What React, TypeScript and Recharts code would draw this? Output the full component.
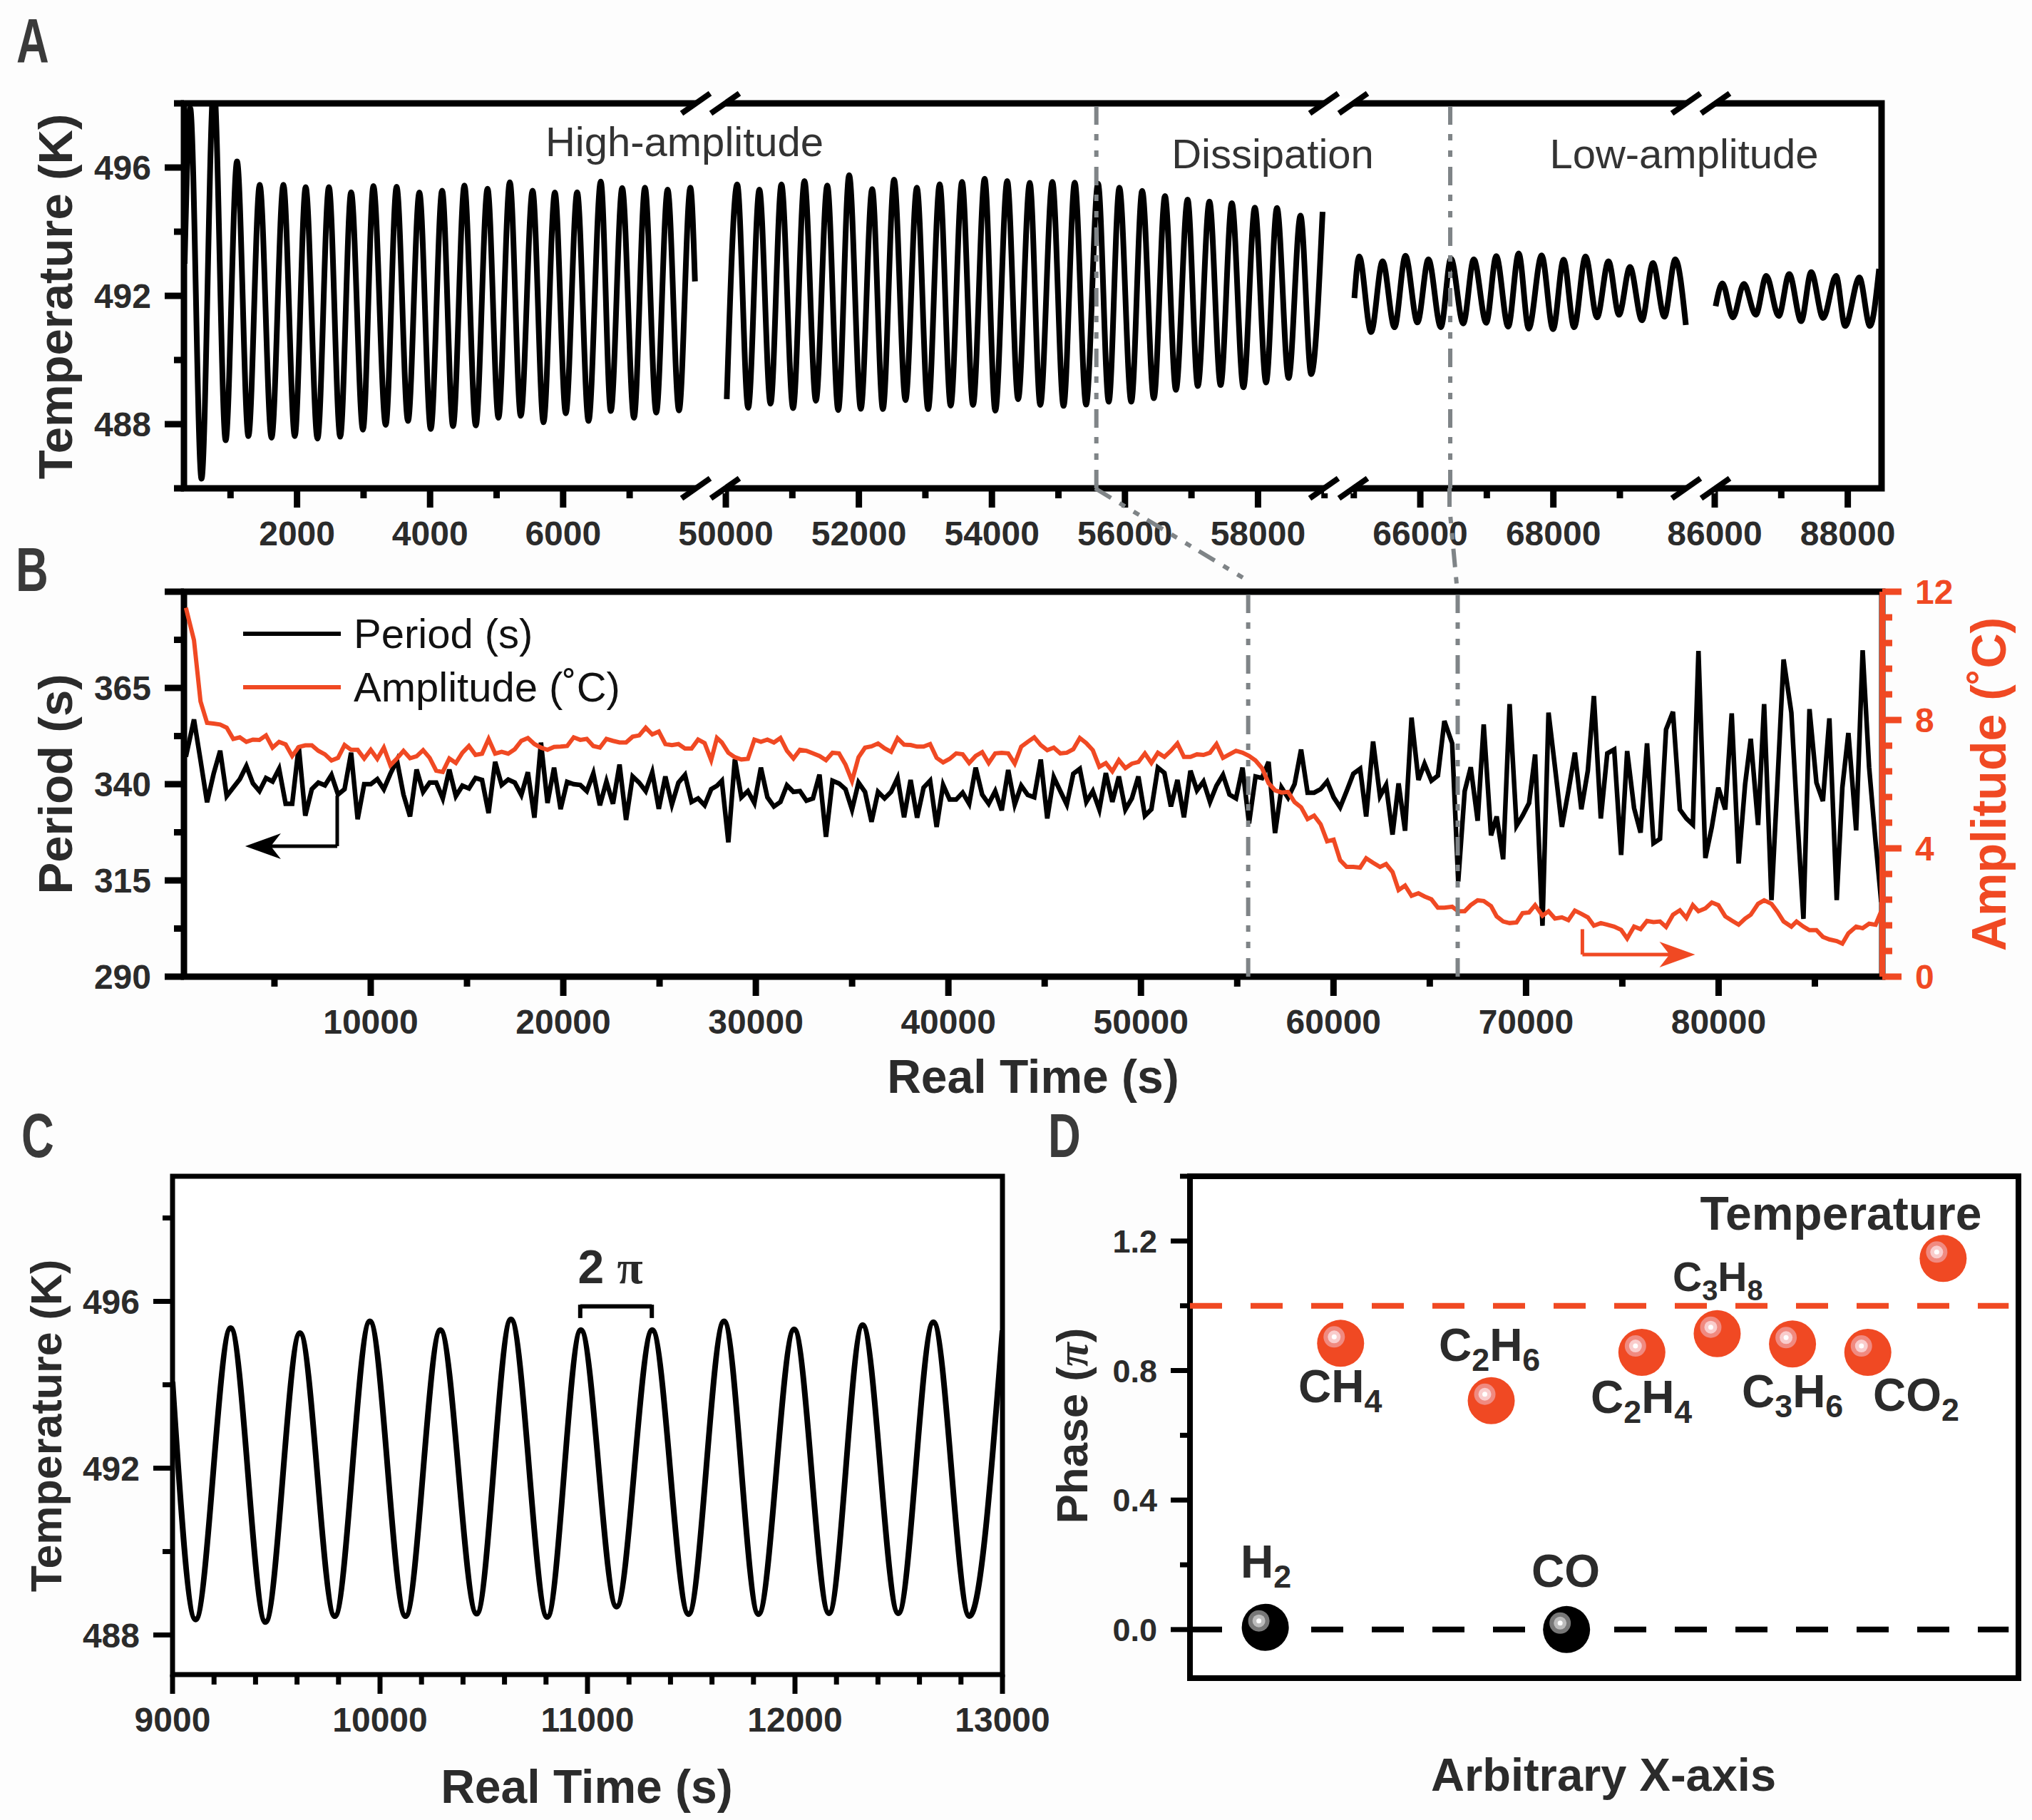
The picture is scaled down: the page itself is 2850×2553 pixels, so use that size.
import React from 'react'
import {
  Legend,
  Line,
  LineChart,
  ReferenceArea,
  ReferenceDot,
  ReferenceLine,
  Scatter,
  ScatterChart,
  XAxis,
  YAxis,
} from 'recharts'

const RED = '#f04923'
const GREY = '#7f8487'
const INK = '#2b2b2b'
const DASH_DOT = '26 14 9 14 9 13'

// panel A: turning points of the temperature trace, one list per broken-axis segment
const tempTimes1 = [310, 394, 564, 749, 927, 1098, 1269, 1439, 1617, 1795, 1966, 2130, 2308, 2479, 2649, 2813, 2991, 3148, 3333, 3497, 3668, 3839, 4010, 4181, 4345, 4516, 4687, 4864, 5028, 5199, 5363, 5541, 5705, 5876, 6040, 6211, 6382, 6566, 6717, 6888, 7065, 7230, 7400, 7571, 7742, 7913, 7982]
const tempValues1 = [493, 497.85, 486.3, 498.6, 487.5, 496.19, 487.63, 495.46, 487.58, 495.46, 487.63, 495.39, 487.55, 495.39, 487.61, 495.23, 487.83, 495.42, 487.98, 495.4, 488.1, 495.22, 487.85, 495.28, 487.94, 495.44, 487.96, 495.34, 488.2, 495.54, 488.26, 495.28, 488.06, 495.22, 488.34, 495.23, 488.1, 495.56, 488.41, 495.36, 488.2, 495.37, 488.36, 495.31, 488.43, 495.37, 492.45]
const tempTimes2 = [50014, 50171, 50336, 50504, 50672, 50836, 51011, 51182, 51354, 51525, 51690, 51854, 52029, 52200, 52361, 52529, 52701, 52872, 53041, 53215, 53380, 53551, 53716, 53891, 54051, 54230, 54394, 54569, 54727, 54909, 55077, 55245, 55416, 55595, 55756, 55916, 56095, 56259, 56434, 56602, 56766, 56942, 57095, 57270, 57438, 57607, 57781, 57953, 58121, 58285, 58460, 58639, 58800, 58971]
const tempValues2 = [488.78, 495.47, 488.51, 495.31, 488.64, 495.47, 488.5, 495.58, 488.73, 495.44, 488.44, 495.76, 488.48, 495.33, 488.47, 495.62, 488.75, 495.37, 488.47, 495.48, 488.58, 495.55, 488.6, 495.65, 488.42, 495.58, 488.78, 495.52, 488.6, 495.55, 488.57, 495.53, 488.61, 495.5, 488.7, 495.37, 488.7, 495.27, 488.81, 495.11, 489.07, 495, 489.19, 494.94, 489.22, 494.89, 489.15, 494.75, 489.3, 494.74, 489.44, 494.5, 489.56, 494.62]
const tempTimes3 = [65009, 65081, 65260, 65433, 65612, 65777, 65957, 66122, 66309, 66460, 66646, 66804, 66991, 67142, 67321, 67479, 67630, 67824, 67996, 68154, 68312, 68484, 68657, 68829, 68987, 69152, 69332, 69497, 69669, 69834, 69992]
const tempValues3 = [491.93, 493.23, 490.87, 493.08, 491.02, 493.25, 491.17, 493.14, 491.02, 493.16, 491.14, 493.14, 491.16, 493.24, 491.04, 493.32, 490.98, 493.26, 490.96, 493.13, 491.02, 493.23, 491.33, 493.08, 491.41, 492.9, 491.24, 493.02, 491.35, 493.14, 491.09]
const tempTimes4 = [86014, 86115, 86273, 86438, 86617, 86775, 86962, 87120, 87300, 87450, 87630, 87824, 87960, 88175, 88334, 88471]
const tempValues4 = [491.68, 492.39, 491.33, 492.37, 491.41, 492.62, 491.37, 492.68, 491.21, 492.74, 491.31, 492.62, 491.06, 492.57, 491.06, 492.84]

const aMajorTimes = [2000, 4000, 6000, 50000, 52000, 54000, 56000, 58000, 66000, 68000, 86000, 88000]
const aMinorTimes = [1000, 3000, 5000, 7000, 51000, 53000, 55000, 57000, 59000, 65000, 67000, 69000, 87000]
// first time of each axis segment and how much is cut out before it
const segmentStarts = [0, 50000, 65000, 86000]
const segmentShifts = [0, 41554, 47114, 62688]

const aTempMajor = [488, 492, 496]
const aTempMinor = [486, 490, 494, 498]

// panel B: one reading per oscillation
const sampleTimes = [
  400, 821, 1161, 1501, 1841, 2181, 2521, 2861, 3201, 3541,
  3881, 4221, 4561, 4901, 5241, 5581, 5921, 6261, 6601, 6941,
  7281, 7621, 7961, 8301, 8641, 8981, 9321, 9661, 10001, 10341,
  10681, 11021, 11361, 11701, 12041, 12381, 12721, 13061, 13401, 13741,
  14081, 14421, 14761, 15101, 15441, 15781, 16121, 16461, 16801, 17141,
  17481, 17821, 18161, 18501, 18841, 19181, 19521, 19861, 20201, 20541,
  20881, 21221, 21561, 21901, 22241, 22581, 22921, 23261, 23601, 23941,
  24281, 24621, 24961, 25301, 25641, 25981, 26321, 26661, 27001, 27341,
  27681, 27980,
  28235, 28573, 28911, 29249, 29587, 29925, 30263, 30601, 30939, 31277,
  31615, 31953, 32291, 32629, 32967, 33305, 33643, 33981, 34319, 34657,
  34995, 35333, 35671, 36009, 36347, 36685, 37023, 37361, 37699, 38037,
  38375, 38713, 39051, 39389, 39727, 40065, 40403, 40741, 41079, 41417,
  41755, 42093, 42431, 42769, 43107, 43445, 43783, 44121, 44459, 44797,
  45135, 45473, 45811, 46149, 46487, 46825, 47163, 47501, 47839, 48177,
  48515, 48853, 49191, 49529, 49867, 50205, 50543, 50881, 51219, 51557,
  51895, 52233, 52571, 52909, 53247, 53585, 53923, 54261, 54599, 54937,
  55275, 55613, 55951, 56289, 56627, 56965, 57303, 57641, 57979, 58317,
  58655, 58993, 59331, 59669, 60007, 60345, 60683, 61030,
  61383, 61697, 62056, 62415, 62730, 63066, 63380, 63717, 64053, 64412,
  64727, 65086, 65422, 65759, 66163, 66477, 66814, 67128, 67487, 67801,
  68182, 68474, 68811, 69147, 69506, 69820, 70157, 70471, 70853, 71167,
  71503, 71863, 72199, 72536, 72872, 73209, 73523, 73882, 74219, 74578,
  74937, 75251, 75610, 75947, 76283, 76620, 76956, 77271, 77630, 77989,
  78325, 78662, 78954, 79313, 79649, 79986, 80345, 80681, 81040, 81377,
  81669, 82050, 82364, 82746, 83060, 83374, 83778, 84047, 84406, 84720,
  85080, 85416, 85753, 86134, 86426, 86740, 87144, 87481, 87817, 88154,
  88446,
]
const periodValues = [
  347.1, 356.8, 346.2, 335.3, 342.7, 348.7, 336.9, 339.1, 341.3, 344.7,
  340.2, 338.2, 341.6, 340.7, 344, 334.9, 334.9, 349.8, 331.8, 338.7,
  340.4, 339.7, 342.4, 337.3, 338.7, 348.2, 330.9, 340, 340, 341.3,
  338.7, 342.7, 346.2, 337.3, 331.6, 343.8, 338, 340.4, 340.4, 336.3,
  343.8, 336.9, 339.6, 338.9, 341.6, 341.1, 332.5, 345.8, 339.8, 341.2,
  340.4, 337.2, 343.1, 331.3, 350.8, 335.1, 344.3, 333.5, 340.6, 340,
  339.8, 338.2, 342.8, 334.5, 340.7, 334.9, 345.1, 330.7, 342, 340.4,
  338.2, 343.1, 333.6, 342, 334.7, 340.4, 342.4, 335.4, 336.3, 334.5,
  338.7, 339.6,
  340.9, 324.9, 346.5, 336.6, 338.2, 335.1, 344.3, 336.6, 334.2, 335.4,
  339.7, 338, 338.2, 335.7, 336.3, 342.5, 326.3, 340.9, 340.2, 338.7,
  333.4, 340.4, 338, 330.2, 338, 336.3, 338, 341.6, 331.4, 341.1,
  331.3, 339.1, 340.9, 328.9, 339.8, 336, 336, 337.8, 334.9, 344.3,
  337.3, 334.9, 338.2, 333.2, 343.7, 334.7, 339.6, 337.2, 336.6, 346.4,
  331.1, 341.8, 338.2, 334.7, 342.7, 344, 335.4, 338.2, 333.4, 342.9,
  335.4, 342, 333.4, 336.3, 342, 331.8, 333.5, 344.3, 342.9, 334.2,
  341.1, 331.4, 343.5, 338.4, 340.7, 335.4, 339.6, 342.4, 337.3, 336.3,
  344.3, 329.8, 342, 341.6, 345.8, 327.3, 339.1, 336.5, 340, 349,
  337.8, 337.8, 338.7, 340.7, 336.6, 334, 338.2, 342.7,
  344, 331.6, 351.1, 336.9, 339.8, 326.9, 340.2, 327.9, 357.3, 341.1,
  345.3, 340.9, 342.2, 356.4, 350.6, 314.7, 338.2, 344.4, 330.5, 355.5,
  326.7, 331.6, 320.5, 360.8, 329.2, 331.8, 335.1, 347.7, 303.2, 358.6,
  344.4, 328.9, 338.2, 348.2, 333.5, 343.5, 362.9, 331.1, 348, 349,
  321.6, 348.6, 333.8, 327.4, 350.6, 324.7, 325.8, 354.2, 358.8, 333.4,
  331.1, 329.5, 374.6, 320.8, 328.9, 339.1, 333.4, 358.4, 319.4, 340,
  351.8, 329.4, 360.8, 309.9, 340.9, 372.4, 358.6, 334.7, 305, 359.5,
  340.4, 335.6, 357.1, 309.9, 339.1, 353.3, 328, 374.8, 344.4, 324.9,
  309.4,
]
const amplitudeValues = [
  11.5, 10.49, 8.58, 7.91, 7.89, 7.86, 7.76, 7.41, 7.46, 7.32,
  7.39, 7.38, 7.52, 7.14, 7.32, 7.24, 6.88, 7.16, 7.21, 7.21,
  7.04, 6.93, 6.74, 6.82, 7.22, 7.07, 7.07, 6.8, 7.07, 6.79,
  7.14, 6.59, 6.8, 7.04, 6.81, 6.87, 7.06, 6.82, 6.42, 6.38,
  6.8, 6.66, 6.98, 7.19, 6.91, 6.95, 7.41, 6.95, 7.01, 6.95,
  7.09, 7.35, 7.44, 7.25, 7.14, 7.07, 7.16, 7.17, 7.19, 7.46,
  7.38, 7.41, 7.19, 7.14, 7.41, 7.35, 7.3, 7.3, 7.48, 7.52,
  7.76, 7.55, 7.64, 7.25, 7.22, 7.25, 7.11, 7.11, 7.39, 7.28,
  6.75, 7.44,
  7.3, 6.98, 6.84, 6.77, 6.79, 7.39, 7.32, 7.39, 7.3, 7.44,
  7.04, 6.8, 7.07, 7.04, 6.96, 6.88, 6.75, 6.98, 6.96, 6.61,
  6.1, 6.84, 7.14, 7.18, 7.27, 7.12, 7.01, 7.43, 7.23, 7.22,
  7.17, 7.17, 7.25, 6.82, 6.68, 6.79, 6.96, 6.93, 6.66, 6.88,
  7, 6.66, 6.96, 6.98, 6.96, 6.64, 7.17, 7.32, 7.46, 7.22,
  7.06, 7.14, 6.96, 6.98, 7.09, 7.44, 7.28, 7.06, 6.54, 6.66,
  6.4, 6.75, 6.5, 6.64, 6.69, 6.96, 6.66, 6.98, 6.85, 7.04,
  7.27, 6.85, 6.85, 6.93, 6.91, 6.98, 7.25, 6.82, 6.93, 7.04,
  6.98, 6.88, 6.74, 6.5, 6.03, 5.81, 5.74, 5.76, 5.44, 5.28,
  4.91, 5.02, 4.75, 4.22, 4.27, 3.63, 3.42, 3.42,
  3.4, 3.69, 3.55, 3.42, 3.51, 3.26, 2.7, 2.84, 2.52, 2.6,
  2.5, 2.41, 2.15, 2.15, 2.18, 2.04, 2.04, 2.23, 2.38, 2.36,
  2.2, 1.88, 1.72, 1.67, 1.69, 1.98, 2, 2.23, 1.9, 2.04,
  1.81, 1.85, 1.76, 2.06, 1.96, 1.85, 1.59, 1.67, 1.62, 1.56,
  1.46, 1.19, 1.56, 1.48, 1.74, 1.7, 1.72, 1.55, 1.93, 2.07,
  1.83, 2.23, 2.04, 2.13, 2.31, 2.23, 1.88, 1.75, 1.62, 1.81,
  1.93, 2.27, 2.38, 2.27, 2.02, 1.72, 1.56, 1.72, 1.56, 1.45,
  1.45, 1.24, 1.16, 1.11, 1.03, 1.35, 1.56, 1.51, 1.65, 1.62,
  2.04,
]
const bTimeMajor = [10000, 20000, 30000, 40000, 50000, 60000, 70000, 80000]
const bTimeMinor = [5000, 15000, 25000, 35000, 45000, 55000, 65000, 75000, 85000]
const periodMajor = [290, 315, 340, 365, 390]
const periodMinor = [302.5, 327.5, 352.5, 377.5]
const ampMajor = [0, 4, 8, 12]
const ampMinor = [0.8, 1.6, 2.4, 3.2, 4.8, 5.6, 6.4, 7.2, 8.8, 9.6, 10.4, 11.2]

// boundaries between the three regimes
const dissipationStart = 55570
const lowAmplitudeStart = 66450

// panel C: turning points
const zoomTimes = [9000, 9111, 9280, 9448, 9614, 9782, 9951, 10123, 10291, 10466, 10631, 10806, 10968, 11140, 11312, 11487, 11658, 11824, 11996, 12164, 12326, 12498, 12667, 12841, 13000]
const zoomValues = [494.07, 488.37, 495.36, 488.31, 495.24, 488.45, 495.52, 488.45, 495.31, 488.51, 495.57, 488.43, 495.31, 488.68, 495.31, 488.5, 495.52, 488.5, 495.33, 488.52, 495.43, 488.52, 495.5, 488.45, 495.3]
const cTimeMajor = [9000, 10000, 11000, 12000, 13000]
const cTimeMinor = [9200, 9400, 9600, 9800, 10200, 10400, 10600, 10800, 11200, 11400, 11600, 11800, 12200, 12400, 12600, 12800]
const cTempMajor = [488, 492, 496]
const cTempMinor = [490, 494, 498]

// panel D
const gasesInPhase = ['H2', 'CO']
const gasesInPhaseX = [1, 5]
const gasesInPhaseY = [0.007, 0]
const gasesAntiPhase = ['CH4', 'C2H6', 'C2H4', 'C3H8', 'C3H6', 'CO2', 'Temperature']
const gasesAntiPhaseX = [2, 4, 6, 7, 8, 9, 10]
const gasesAntiPhaseY = [0.884, 0.707, 0.856, 0.914, 0.882, 0.856, 1.146]
const phaseMajor = [0, 0.4, 0.8, 1.2]
const phaseMinor = [0.2, 0.6, 1, 1.4]

const toAxis = (t: number) => {
  let seg = 0
  segmentStarts.forEach((s, i) => {
    if (t >= s) seg = i
  })
  return t - segmentShifts[seg]
}
const fromAxis = (c: number) => {
  let t = c
  segmentShifts.forEach((shift, i) => {
    if (c + shift >= segmentStarts[i]) t = c + shift
  })
  return t
}

const pairs = (times: number[], values: number[]) =>
  times.map((t, i) => ({ t: toAxis(t), v: values[i] }))
const tempSegments = [
  pairs(tempTimes1, tempValues1),
  pairs(tempTimes2, tempValues2),
  pairs(tempTimes3, tempValues3),
  pairs(tempTimes4, tempValues4),
]
const seriesB = sampleTimes.map((t, i) => ({ t, period: periodValues[i], amp: amplitudeValues[i] }))
const seriesC = zoomTimes.map((t, i) => ({ t, v: zoomValues[i] }))
const pointsBlack = gasesInPhase.map((name, i) => ({ name, x: gasesInPhaseX[i], y: gasesInPhaseY[i] }))
const pointsRed = gasesAntiPhase.map((name, i) => ({ name, x: gasesAntiPhaseX[i], y: gasesAntiPhaseY[i] }))

type TickCfg = {
  side: 'bottom' | 'left' | 'right'
  majors: number[]
  hidden?: number[]
  color?: string
  thick?: number
  labelColor?: string
  fontSize?: number
  format?: (v: number) => string
}

function AxisTick({ x, y, payload, cfg }: any) {
  const { side, majors, hidden = [], color = '#000', thick = 9, labelColor = INK, fontSize = 48, format } = cfg as TickCfg
  const isMajor = majors.includes(payload.value)
  const len = isMajor ? 27 : 14
  const text = format ? format(payload.value) : String(payload.value)
  const label = isMajor && !hidden.includes(payload.value)
  if (side === 'bottom') {
    return (
      <g>
        <line x1={x} x2={x} y1={y} y2={y + len} stroke={color} strokeWidth={thick} />
        {label && (
          <text x={x} y={y + 80} textAnchor="middle" fontSize={fontSize} fontWeight={700} fill={labelColor}>
            {text}
          </text>
        )}
      </g>
    )
  }
  const dir = side === 'left' ? -1 : 1
  return (
    <g>
      <line x1={x} x2={x + dir * len} y1={y} y2={y} stroke={color} strokeWidth={thick} />
      {label && (
        <text
          x={x + dir * 46}
          y={y + fontSize * 0.36}
          textAnchor={side === 'left' ? 'end' : 'start'}
          fontSize={fontSize}
          fontWeight={700}
          fill={labelColor}
        >
          {text}
        </text>
      )}
    </g>
  )
}

function Ball({ cx, cy, base, ring, inner }: any) {
  return (
    <g>
      <circle cx={cx} cy={cy} r={33} fill={base} />
      <circle cx={cx - 9} cy={cy - 9} r={15} fill={ring} />
      <circle cx={cx - 9} cy={cy - 9} r={9} fill={inner} />
      <circle cx={cx - 9} cy={cy - 9} r={3.5} fill="#fff" />
    </g>
  )
}

const ArrowLeft = ({ cx, cy }: any) => (
  <path d={`M${cx} ${cy}L${cx + 50} ${cy - 18}L${cx + 36} ${cy}L${cx + 50} ${cy + 18}Z`} fill="#000" />
)
const ArrowRight = ({ cx, cy }: any) => (
  <path d={`M${cx} ${cy}L${cx - 50} ${cy - 18}L${cx - 36} ${cy}L${cx - 50} ${cy + 18}Z`} fill={RED} />
)

function LegendRows({ payload }: any) {
  return (
    <div>
      {(payload || []).map((item: any) => (
        <div key={item.value} style={{ display: 'flex', alignItems: 'center', height: 75 }}>
          <div style={{ width: 137, height: 6, background: item.color, marginRight: 18 }} />
          <span style={{ fontSize: 58, color: '#111', whiteSpace: 'nowrap' }}>{item.value}</span>
        </div>
      ))}
    </div>
  )
}

function BreakMark({ a, b, y }: { a: number; b: number; y: number }) {
  return (
    <g>
      <rect x={a} y={y - 7} width={b - a} height={14} fill="#fff" />
      <line x1={a - 20} y1={y + 14} x2={a + 20} y2={y - 14} stroke="#000" strokeWidth={8} />
      <line x1={b - 20} y1={y + 14} x2={b + 20} y2={y - 14} stroke="#000" strokeWidth={8} />
    </g>
  )
}

const breakCentres = [
  [976, 1017],
  [1857, 1898],
  [2365, 2406],
]

function Formula({ x, y, base, sub1, rest, sub2, size = 64 }: any) {
  const small = size * 0.7
  return (
    <text x={x} y={y} fontSize={size} fontWeight={700} fill={INK}>
      {base}
      {sub1 && (
        <tspan fontSize={small} dy={size * 0.22}>
          {sub1}
        </tspan>
      )}
      {rest && (
        <tspan fontSize={size} dy={sub1 ? -size * 0.22 : 0}>
          {rest}
        </tspan>
      )}
      {sub2 && (
        <tspan fontSize={small} dy={size * 0.22}>
          {sub2}
        </tspan>
      )}
    </text>
  )
}

function Annotations() {
  const title = { fontWeight: 700, fill: INK, textAnchor: 'middle' } as const
  const letter = { fontWeight: 700, fontSize: 88, fill: '#3a3a3a' } as const
  const note = { fontSize: 58, fill: '#333', textAnchor: 'middle' } as const
  return (
    <svg width={2850} height={2553} style={{ position: 'absolute', left: 0, top: 0, pointerEvents: 'none' }}>
      {breakCentres.map(([a, b]) => (
        <g key={a}>
          <BreakMark a={a} b={b} y={145} />
          <BreakMark a={a} b={b} y={685} />
        </g>
      ))}

      {/* connectors between panels A and B */}
      <path d="M1536 685L1751 815" fill="none" stroke={GREY} strokeWidth={6} strokeDasharray={DASH_DOT} />
      <path d="M2033 685L2033 711L2044 830" fill="none" stroke={GREY} strokeWidth={6} strokeDasharray={DASH_DOT} />

      <text transform="translate(23 87) scale(0.72 1)" {...letter}>A</text>
      <text transform="translate(22 829) scale(0.72 1)" {...letter}>B</text>
      <text transform="translate(30 1623) scale(0.72 1)" {...letter}>C</text>
      <text transform="translate(1470 1623) scale(0.72 1)" {...letter}>D</text>

      <text x={960} y={219} {...note}>High-amplitude</text>
      <text x={1785} y={236} {...note}>Dissipation</text>
      <text x={2362} y={236} {...note}>Low-amplitude</text>

      <text transform="translate(101 416) rotate(-90)" fontSize={67} {...title}>Temperature (K)</text>
      <text transform="translate(101 1100) rotate(-90)" fontSize={67} {...title}>Period (s)</text>
      <text transform="translate(2813 1100) rotate(-90)" fontSize={68} {...title} fill={RED}>Amplitude (˚C)</text>
      <text x={1449} y={1533} fontSize={66} {...title}>Real Time (s)</text>

      <text transform="translate(86 2000) rotate(-90)" fontSize={61} {...title}>Temperature (K)</text>
      <text x={823} y={2529} fontSize={66} {...title}>Real Time (s)</text>
      <text x={856} y={1800} fontSize={66} {...title}>
        2 <tspan fontFamily="Liberation Serif">π</tspan>
      </text>

      <text transform="translate(1525 2000) rotate(-90)" fontSize={62} {...title}>
        Phase (<tspan fontFamily="Liberation Serif" fontStyle="italic">π</tspan>)
      </text>
      <text x={2249} y={2512} fontSize={65} {...title}>Arbitrary X-axis</text>

      <text x={2582} y={1725} fontSize={66} {...title}>Temperature</text>
      <Formula x={1821} y={1967} base="CH" sub1="4" />
      <Formula x={2018} y={1909} base="C" sub1="2" rest="H" sub2="6" />
      <Formula x={2231} y={1982} base="C" sub1="2" rest="H" sub2="4" />
      <Formula x={2346} y={1811} base="C" sub1="3" rest="H" sub2="8" size={57} />
      <Formula x={2443} y={1974} base="C" sub1="3" rest="H" sub2="6" />
      <Formula x={2627} y={1979} base="CO" sub1="2" />
      <Formula x={1740} y={2213} base="H" sub1="2" />
      <Formula x={2148} y={2226} base="CO" />
    </svg>
  )
}

function PanelA() {
  const ticks = [...aMajorTimes, ...aMinorTimes].map(toAxis).sort((p, q) => p - q)
  const domain: [number, number] = [300, 25820]
  return (
    <div style={{ position: 'absolute', left: 0, top: 65 }}>
      <LineChart width={2850} height={755} margin={{ top: 80, right: 211, bottom: 0, left: 58 }}>
        <XAxis
          type="number"
          dataKey="t"
          domain={domain}
          allowDataOverflow
          ticks={ticks}
          interval={0}
          height={135}
          axisLine={false}
          tickLine={false}
          tickSize={0}
          tickMargin={0}
          tick={
            <AxisTick
              cfg={{ side: 'bottom', majors: aMajorTimes.map(toAxis), format: (c: number) => String(fromAxis(c)) }}
            />
          }
        />
        <YAxis
          type="number"
          domain={[486, 498]}
          allowDataOverflow
          ticks={[...aTempMajor, ...aTempMinor].sort((p, q) => p - q)}
          interval={0}
          width={200}
          axisLine={false}
          tickLine={false}
          tickSize={0}
          tickMargin={0}
          tick={<AxisTick cfg={{ side: 'left', majors: aTempMajor }} />}
        />
        <ReferenceArea x1={domain[0]} x2={domain[1]} y1={486} y2={498} fill="#fff" fillOpacity={1} stroke="#000" strokeWidth={9} />
        {tempSegments.map((seg, i) => (
          <Line
            key={i}
            data={seg}
            dataKey="v"
            type="monotone"
            stroke="#000"
            strokeWidth={8}
            dot={false}
            isAnimationActive={false}
            legendType="none"
          />
        ))}
        <ReferenceLine x={toAxis(dissipationStart)} stroke={GREY} strokeWidth={6} strokeDasharray={DASH_DOT} />
        <ReferenceLine x={toAxis(lowAmplitudeStart)} stroke={GREY} strokeWidth={6} strokeDasharray={DASH_DOT} />
      </LineChart>
    </div>
  )
}

function PanelB() {
  const domain: [number, number] = [300, 88500]
  return (
    <div style={{ position: 'absolute', left: 0, top: 750 }}>
      <LineChart width={2850} height={755} data={seriesB} margin={{ top: 80, right: 10, bottom: 0, left: 58 }}>
        <XAxis
          type="number"
          dataKey="t"
          domain={domain}
          allowDataOverflow
          ticks={[...bTimeMajor, ...bTimeMinor].sort((p, q) => p - q)}
          interval={0}
          height={135}
          axisLine={false}
          tickLine={false}
          tickSize={0}
          tickMargin={0}
          tick={<AxisTick cfg={{ side: 'bottom', majors: bTimeMajor }} />}
        />
        <YAxis
          yAxisId="left"
          type="number"
          domain={[290, 390]}
          allowDataOverflow
          ticks={[...periodMajor, ...periodMinor].sort((p, q) => p - q)}
          interval={0}
          width={200}
          axisLine={false}
          tickLine={false}
          tickSize={0}
          tickMargin={0}
          tick={<AxisTick cfg={{ side: 'left', majors: periodMajor, hidden: [390] }} />}
        />
        <YAxis
          yAxisId="right"
          orientation="right"
          type="number"
          domain={[0, 12]}
          allowDataOverflow
          ticks={[...ampMajor, ...ampMinor].sort((p, q) => p - q)}
          interval={0}
          width={200}
          axisLine={false}
          tickLine={false}
          tickSize={0}
          tickMargin={0}
          tick={<AxisTick cfg={{ side: 'right', majors: ampMajor, color: RED, labelColor: RED }} />}
        />
        <ReferenceArea yAxisId="left" x1={domain[0]} x2={domain[1]} y1={290} y2={390} fill="#fff" fillOpacity={1} stroke="#000" strokeWidth={9} />
        <Line
          yAxisId="left"
          dataKey="period"
          name="Period (s)"
          type="linear"
          stroke="#000"
          strokeWidth={6.5}
          dot={false}
          isAnimationActive={false}
        />
        <Line
          yAxisId="right"
          dataKey="amp"
          name="Amplitude (˚C)"
          type="linear"
          stroke={RED}
          strokeWidth={6}
          dot={false}
          isAnimationActive={false}
        />
        <ReferenceLine yAxisId="left" x={dissipationStart} stroke={GREY} strokeWidth={6} strokeDasharray={DASH_DOT} />
        <ReferenceLine yAxisId="left" x={lowAmplitudeStart} stroke={GREY} strokeWidth={6} strokeDasharray={DASH_DOT} />
        <ReferenceLine yAxisId="right" x={domain[1]} stroke={RED} strokeWidth={8} />

        {/* arrows telling which axis each trace belongs to */}
        <ReferenceLine yAxisId="left" segment={[{ x: 8260, y: 337 }, { x: 8260, y: 323.9 }]} stroke="#000" strokeWidth={5} />
        <ReferenceLine yAxisId="left" segment={[{ x: 8260, y: 323.9 }, { x: 4800, y: 323.9 }]} stroke="#000" strokeWidth={5} />
        <ReferenceDot yAxisId="left" x={3480} y={323.9} shape={ArrowLeft} />
        <ReferenceLine yAxisId="right" segment={[{ x: 72926, y: 1.48 }, { x: 72926, y: 0.69 }]} stroke={RED} strokeWidth={5} />
        <ReferenceLine yAxisId="right" segment={[{ x: 72926, y: 0.69 }, { x: 77600, y: 0.69 }]} stroke={RED} strokeWidth={5} />
        <ReferenceDot yAxisId="right" x={78780} y={0.69} shape={ArrowRight} />

        <Legend
          layout="vertical"
          align="center"
          verticalAlign="middle"
          itemSorter={null}
          content={LegendRows}
          wrapperStyle={{ left: 341, top: 101, width: 900 }}
        />
      </LineChart>
    </div>
  )
}

function PanelC() {
  const domain: [number, number] = [9000, 13000]
  return (
    <div style={{ position: 'absolute', left: 0, top: 1570 }}>
      <LineChart width={2850} height={914} data={seriesC} margin={{ top: 80, right: 1444, bottom: 0, left: 42 }}>
        <XAxis
          type="number"
          dataKey="t"
          domain={domain}
          allowDataOverflow
          ticks={[...cTimeMajor, ...cTimeMinor].sort((p, q) => p - q)}
          interval={0}
          height={135}
          axisLine={false}
          tickLine={false}
          tickSize={0}
          tickMargin={0}
          tick={<AxisTick cfg={{ side: 'bottom', majors: cTimeMajor, thick: 7 }} />}
        />
        <YAxis
          type="number"
          domain={[487.05, 499]}
          allowDataOverflow
          ticks={[...cTempMajor, ...cTempMinor].sort((p, q) => p - q)}
          interval={0}
          width={200}
          axisLine={false}
          tickLine={false}
          tickSize={0}
          tickMargin={0}
          tick={<AxisTick cfg={{ side: 'left', majors: cTempMajor, thick: 7 }} />}
        />
        <ReferenceArea x1={domain[0]} x2={domain[1]} y1={487.05} y2={499} fill="#fff" fillOpacity={1} stroke="#000" strokeWidth={7} />
        <Line dataKey="v" type="monotone" stroke="#000" strokeWidth={8} dot={false} isAnimationActive={false} />
        <ReferenceLine segment={[{ x: 10965, y: 495.88 }, { x: 11310, y: 495.88 }]} stroke="#000" strokeWidth={6} />
        <ReferenceLine segment={[{ x: 10965, y: 495.92 }, { x: 10965, y: 495.6 }]} stroke="#000" strokeWidth={6} />
        <ReferenceLine segment={[{ x: 11310, y: 495.92 }, { x: 11310, y: 495.6 }]} stroke="#000" strokeWidth={6} />
      </LineChart>
    </div>
  )
}

function PanelD() {
  const xDomain: [number, number] = [0, 11]
  const yDomain: [number, number] = [-0.15, 1.4]
  return (
    <div style={{ position: 'absolute', left: 0, top: 1570 }}>
      <ScatterChart width={2850} height={919} margin={{ top: 80, right: 19, bottom: 0, left: 1469 }}>
        <XAxis type="number" dataKey="x" domain={xDomain} allowDataOverflow height={135} tick={false} axisLine={false} tickLine={false} />
        <YAxis
          type="number"
          dataKey="y"
          domain={yDomain}
          allowDataOverflow
          ticks={[...phaseMajor, ...phaseMinor].sort((p, q) => p - q)}
          interval={0}
          width={200}
          axisLine={false}
          tickLine={false}
          tickSize={0}
          tickMargin={0}
          tick={<AxisTick cfg={{ side: 'left', majors: phaseMajor, thick: 7, fontSize: 45, format: (v: number) => v.toFixed(1) }} />}
        />
        <ReferenceArea x1={0} x2={11} y1={yDomain[0]} y2={yDomain[1]} fill="#fff" fillOpacity={1} stroke="#000" strokeWidth={8} />
        <ReferenceLine segment={[{ x: 0, y: 1 }, { x: 10.87, y: 1 }]} stroke={RED} strokeWidth={8} strokeDasharray="45 40" />
        <ReferenceLine segment={[{ x: 0, y: 0 }, { x: 10.87, y: 0 }]} stroke="#000" strokeWidth={8} strokeDasharray="45 40" />
        <Scatter
          data={pointsRed}
          isAnimationActive={false}
          shape={(p: any) => <Ball cx={p.cx} cy={p.cy} base={RED} ring="#f08a80" inner="#f9cccc" />}
        />
        <Scatter
          data={pointsBlack}
          isAnimationActive={false}
          shape={(p: any) => <Ball cx={p.cx} cy={p.cy} base="#000" ring="#777" inner="#bbb" />}
        />
      </ScatterChart>
    </div>
  )
}

export default function App() {
  return (
    <div
      style={{
        position: 'absolute',
        left: 0,
        top: 0,
        width: 2850,
        height: 2553,
        overflow: 'hidden',
        background: '#fdfdfd',
        fontFamily: '"Liberation Sans", Arial, sans-serif',
      }}
    >
      <PanelA />
      <PanelB />
      <PanelC />
      <PanelD />
      <Annotations />
    </div>
  )
}
